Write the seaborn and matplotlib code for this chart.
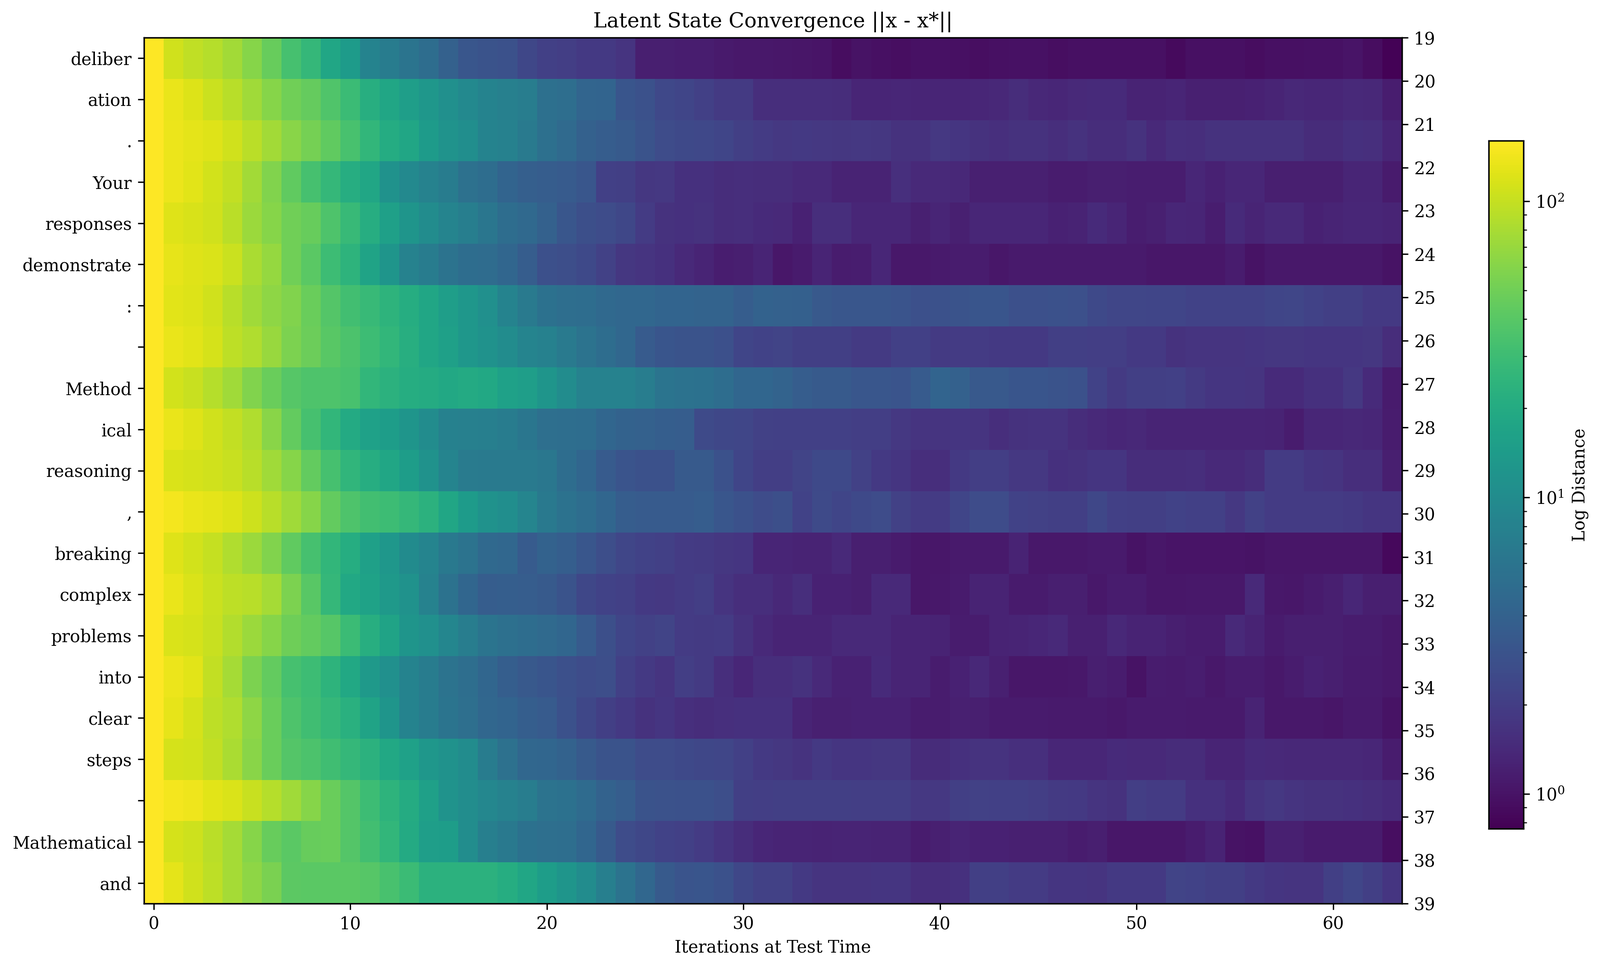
import numpy as np
import matplotlib
matplotlib.use("Agg")
import matplotlib.pyplot as plt
from matplotlib.colors import LogNorm
import seaborn as sns

tokens = ["deliber", "ation", ".", "Your", "responses", "demonstrate", ":", " ", "Method", "ical",
          "reasoning", ",", "breaking", "complex", "problems", "into", "clear", "steps", " ",
          "Mathematical", "and"]
right_labels = list(range(19, 40))

row_00 = [160,108,96,88,76,60,46,33,27,18,14,8.4,7,6,5,3.9,3.2,3,2.9,2.4,2.1,2,1.85,1.85,1.7,1.2,1.2,1.18,1.18,1.1,1.07,1.07,1.05,1.03,1.02,.92,1,.95,.93,.98,.98,.95,.94,.95,.97,.98,.93,.95,.96,.96,.96,.96,.88,.95,.95,.96,.92,.96,.96,.97,.97,1.02,.92,.78]
row_01 = [160,135,120,104,90,75,60,50,45,37,29,22,18,15,13,11,9.5,8.3,7.6,7.2,5.4,5.2,4.3,4.2,3.1,2.9,2.45,2.3,2.1,1.9,1.9,1.55,1.55,1.53,1.52,1.5,1.33,1.32,1.35,1.33,1.33,1.33,1.35,1.38,1.5,1.38,1.35,1.42,1.45,1.45,1.28,1.28,1.32,1.22,1.22,1.22,1.25,1.3,1.38,1.35,1.35,1.42,1.38,1.18]
row_02 = [160,138,128,122,108,92,76,62,52,43,34,26,20.5,18,14,12,10.5,8.3,7.9,6.8,5.4,4.7,3.9,3.6,3.4,3,2.6,2.5,2.45,2.3,2.05,1.95,1.82,1.85,1.8,1.78,1.8,1.78,1.62,1.62,1.8,1.75,1.62,1.58,1.62,1.62,1.55,1.62,1.5,1.5,1.65,1.42,1.58,1.55,1.62,1.62,1.62,1.62,1.62,1.48,1.48,1.6,1.58,1.33]
row_03 = [160,138,126,112,98,76,58,43,33,27,21.5,18,11.5,9.5,8,7,5.5,5,4.2,3.8,3.6,3.5,3.2,2.1,2.05,1.78,1.8,1.6,1.6,1.5,1.55,1.5,1.5,1.42,1.42,1.28,1.28,1.28,1.58,1.42,1.42,1.38,1.22,1.22,1.22,1.22,1.15,1.15,1.2,1.2,1.18,1.18,1.18,1.35,1.25,1.35,1.35,1.2,1.2,1.2,1.2,1.33,1.33,1.13]
row_04 = [160,122,115,108,92,72,60,50,46,36,28,21.5,15.5,12.5,10,8.5,7.3,6.2,5.1,4.6,3.9,3.2,2.75,2.6,2.4,1.95,1.62,1.6,1.62,1.5,1.52,1.45,1.42,1.25,1.52,1.52,1.35,1.35,1.35,1.22,1.32,1.22,1.35,1.35,1.35,1.35,1.25,1.28,1.45,1.32,1.18,1.22,1.35,1.32,1.18,1.45,1.3,1.4,1.4,1.25,1.3,1.35,1.35,1.3]
row_05 = [160,130,122,118,104,82,68,50,41,30,24,17,12.5,8,7,5.8,5,4.9,4.4,3.6,2.8,2.7,2.5,2.15,1.78,1.72,1.6,1.42,1.3,1.18,1.2,1.3,1.05,1.12,1.3,1.15,1.18,1.35,1.07,1.07,1.1,1.15,1.15,1.05,1.1,1.1,1.1,1.1,1.1,1.1,1.1,1.05,1.05,1.05,1.05,1.15,1,1.08,1.08,1.08,1.08,1.08,1.08,1]
row_06 = [160,125,120,108,90,74,65,58,47,38,32,28,24,21,18,15,13,11,8.3,6.8,5.6,5.2,5,4.6,4.5,4.5,4.2,4.2,4.1,4.1,3.6,4,3.95,3.85,3.3,3.2,3.2,3.2,3.05,2.8,2.9,3,3.1,3.1,2.8,2.8,2.9,2.8,2.5,2.35,2.35,2.3,2.3,2.2,2.2,2.2,2.2,2.3,2.35,2.2,2.05,2.05,1.85,1.85]
row_07 = [160,135,127,114,93,84,70,56,48,40,35,30,26,22,18,15.5,13,11.5,10,8.5,7.8,6.8,5.9,5,4.5,3.5,3.1,3,3,2.8,2.3,2.2,2.25,2.05,2.05,2.05,1.9,1.9,2.1,2.1,1.9,1.95,1.95,1.85,1.85,1.85,2.05,2.05,2,2,1.85,1.85,1.62,1.72,1.72,1.72,1.75,1.78,1.78,1.75,1.75,1.75,1.78,1.5]
row_08 = [160,112,102,88,74,58,47,39,36,36,34,26,23,21,20,19,19.5,19,15.8,15,12.5,10,8.2,8,8,7.2,6,5.7,5.6,5,4.4,4.4,4.1,3.6,3.4,3.4,3.2,3.2,3.05,3.5,4.2,3.9,3.3,3.3,3.1,3.1,3,2.9,2.2,1.9,2.05,2.05,2.1,1.9,1.75,1.75,1.7,1.45,1.45,1.6,1.6,1.8,1.45,1.12]
row_09 = [160,133,122,108,98,84,62,44,33,26,19.5,16,14.5,12.5,10,7.8,7.7,7.5,7,6.2,5.3,5.2,5.1,4.4,4,3.9,3.7,3.6,2.55,2.4,2.35,2.15,2.1,2.1,2.1,2.1,2,2,1.8,1.7,1.7,1.75,1.72,1.55,1.65,1.68,1.68,1.5,1.42,1.35,1.38,1.3,1.3,1.3,1.3,1.3,1.3,1.28,1.15,1.35,1.35,1.38,1.35,1.15]
row_10 = [160,118,113,108,102,90,75,60,44,33,25,21.5,18,14.5,11.5,8.5,6.9,6.8,6.8,6.8,6.3,5.1,4.4,3.5,3.05,2.9,2.85,3.4,3.4,2.85,2.3,2,2,2.25,2.5,2.5,2.15,1.85,1.75,1.55,1.55,1.85,2,2,1.8,1.8,1.6,1.65,1.75,1.75,1.5,1.5,1.5,1.55,1.4,1.4,1.5,1.95,1.95,1.75,1.7,1.55,1.55,1.2]
row_11 = [160,145,135,128,120,107,90,74,60,44,36,32,30,27,23,18,14,11.5,10.5,8.7,6.6,5.7,5,4.4,3.6,3.5,3.5,3.5,3.6,3.2,2.85,2.6,2.75,2.2,2.55,2.3,2.5,2.6,2.15,1.95,1.95,2.3,2.6,2.6,2.2,2.15,2.05,2.05,2.4,2.1,2.05,2.05,2.2,2.1,2.1,1.8,2.15,1.95,1.95,1.95,1.95,1.85,1.75,1.75]
row_12 = [160,122,112,100,85,72,58,43,33,26,21,15.5,13,9.8,8.5,6.6,5.8,4.6,4.5,3.5,4,3.7,3.2,2.7,2.35,2.2,2.1,1.95,1.9,1.78,1.75,1.32,1.32,1.28,1.28,1.42,1.2,1.2,1.12,1.05,1.05,1.1,1.1,1.1,1.28,1.08,1.08,1.08,1.1,1.1,1,1.05,1.02,1.02,1.02,1.02,1,1.03,1.03,1.03,1.03,1.03,1.03,.85]
row_13 = [160,133,118,105,93,90,78,56,40,27,19,16.5,13.5,11.5,8,5.7,4.4,3.6,3.7,3.6,3.4,3,2.4,2.2,2.1,1.85,1.8,1.95,2,1.7,1.55,1.55,1.38,1.52,1.25,1.25,1.2,1.42,1.42,1.05,1.08,1.12,1.28,1.28,1.12,1.12,1.2,1.2,1.08,1.15,1.15,1.05,1.05,1.08,1.08,1.08,1.4,1.08,1.05,1.12,1.2,1.35,1.2,1.2]
row_14 = [160,118,113,102,86,72,60,49,44,39,29,22,17,12.5,11,8.8,7.2,6,5.4,5,4.7,4.4,3.5,2.75,2.3,2.15,2.25,1.92,1.88,1.95,1.65,1.42,1.3,1.3,1.3,1.42,1.4,1.4,1.3,1.3,1.28,1.15,1.15,1.28,1.3,1.35,1.42,1.22,1.22,1.38,1.28,1.28,1.2,1.15,1.15,1.42,1.28,1.12,1.2,1.2,1.2,1.15,1.15,1.08]
row_15 = [160,136,125,98,78,56,44,33,30,24,19,13.5,11,8.4,7,5.9,5.2,4.4,3.7,3.3,3.1,2.8,2.6,2.7,2.1,1.85,1.7,2,1.9,1.55,1.35,1.55,1.55,1.62,1.42,1.25,1.25,1.45,1.3,1.3,1.15,1.25,1.38,1.22,1.05,1.05,1.05,1.08,1.2,1.15,1,1.15,1.12,1.18,1.08,1.15,1.15,1.08,1.15,1.25,1.2,1.12,1.12,1.08]
row_16 = [160,132,113,94,84,64,47,36,31,27,22.5,17,12.5,8.4,7,6,5.3,4.5,4.2,3.7,3.5,2.9,2.4,2.05,1.85,1.62,1.75,1.58,1.5,1.58,1.6,1.6,1.6,1.3,1.22,1.22,1.25,1.25,1.25,1.15,1.15,1.22,1.2,1.12,1.12,1.12,1.1,1.1,1.1,1.08,1.12,1.12,1.12,1.1,1.1,1.1,1.28,1.08,1.08,1.08,1.03,1.1,1.1,1]
row_17 = [160,113,110,98,82,62,47,38,35,31,27,23,19,16,13,11.5,10,7,5.5,4.5,4.4,4,3.4,3,3,2.6,2.6,2.5,2.4,2.35,2.1,1.85,1.78,1.68,1.85,1.75,1.75,1.78,1.78,1.48,1.48,1.6,1.68,1.68,1.58,1.58,1.35,1.35,1.35,1.45,1.42,1.42,1.48,1.48,1.3,1.3,1.45,1.42,1.38,1.38,1.38,1.38,1.35,1.15]
row_18 = [160,146,140,127,118,103,88,74,60,47,38,30,24,20,15.5,12,10.3,9,8,7.2,5.9,5.6,4.8,4,3.6,3,2.95,2.9,2.85,2.7,2.05,2,2.05,2.05,2.05,2.05,2,2,2,1.8,1.8,2.05,2.15,2.1,2.1,2,1.9,1.85,1.7,1.65,2,1.95,1.95,1.6,1.6,1.45,1.7,1.8,1.7,1.65,1.65,1.6,1.55,1.45]
row_19 = [160,114,106,92,78,60,46,41,46,47,38,32,26,19.5,15,14.5,10.2,7.5,6.6,5.6,5.3,5.2,4.4,3.4,2.6,2.4,2.2,2.1,1.95,1.7,1.5,1.35,1.3,1.3,1.28,1.3,1.3,1.28,1.28,1.15,1.22,1.3,1.25,1.25,1.22,1.22,1.22,1.15,1.2,1.05,1.05,1.05,1.05,1.15,1.28,1,.98,1.22,1.22,1.12,1.12,1.12,1.12,.93]
row_20 = [160,128,108,94,78,64,55,42,41,41,41,39,34,29,23,23,23,23,21,18,14.5,12.5,10,7.5,5.8,4.5,3.4,3.05,3.1,2.85,2.4,2.15,2.15,1.85,1.72,1.72,1.7,1.75,1.75,1.55,1.55,1.6,2.05,2.05,1.95,1.95,1.75,1.75,1.7,1.85,1.85,1.85,2.25,2.2,2.05,2.05,1.85,1.75,1.7,1.7,2.05,2.35,2.05,1.75]

rows = [row_00,row_01,row_02,row_03,row_04,row_05,row_06,row_07,row_08,row_09,row_10,
        row_11,row_12,row_13,row_14,row_15,row_16,row_17,row_18,row_19,row_20]
for r in rows:
    assert len(r) == 64
data = np.array(rows, dtype=float)

sns.set_theme(style="white", rc={"font.family": "DejaVu Serif", "axes.edgecolor": "black",
                                 "axes.linewidth": 0.8, "xtick.bottom": True, "ytick.left": True,
                                 "xtick.color": "black", "ytick.color": "black",
                                 "axes.labelcolor": "black", "text.color": "black"})
W, H = 3911, 2369
fig = plt.figure(figsize=(W / 300, H / 300), dpi=300, facecolor="white")
ax = fig.add_axes([351.5 / W, 1 - 2209 / H, (3427 - 351.5) / W, (2209 - 92) / H])
cax = fig.add_axes([3639 / W, 1 - 2026 / H, (3724 - 3639) / W, (2026 - 344) / H])

norm = LogNorm(vmin=0.763, vmax=160)
sns.heatmap(data, ax=ax, cmap="viridis", norm=norm, cbar=True, cbar_ax=cax,
            cbar_kws={"label": "Log Distance"}, xticklabels=False, yticklabels=False,
            rasterized=True, linewidths=0)
ax.set_xticks(np.arange(0, 64, 10) + 0.5)
ax.set_xticklabels([str(v) for v in range(0, 64, 10)], rotation=0, fontsize=10)
ax.set_yticks(np.arange(len(tokens)) + 0.5)
ax.set_yticklabels(tokens, rotation=0, fontsize=10)
ax.set_xlabel("Iterations at Test Time", fontsize=10, labelpad=4)
ax.set_title("Latent State Convergence ||x - x*||", fontsize=12, pad=6)
for s in ax.spines.values():
    s.set_visible(True)
    s.set_linewidth(0.8)
ax.tick_params(axis="both", length=3.5, width=0.8, pad=3.5)

ax2 = ax.twinx()
ax2.set_ylim(39, 19)
ax2.set_yticks(right_labels)
ax2.set_yticklabels([str(v) for v in right_labels], fontsize=10)
ax2.tick_params(axis="y", length=3.5, width=0.8, pad=3.5, right=True)
ax2.grid(False)
for s in ax2.spines.values():
    s.set_linewidth(0.8)

cax.tick_params(which="major", length=3.5, width=0.8, labelsize=10, right=True)
cax.tick_params(which="minor", length=2, width=0.6, right=True)
cax.yaxis.label.set_size(10)
for s in cax.spines.values():
    s.set_visible(True)
    s.set_linewidth(0.8)

fig.savefig("out.png", dpi=300, facecolor="white")
